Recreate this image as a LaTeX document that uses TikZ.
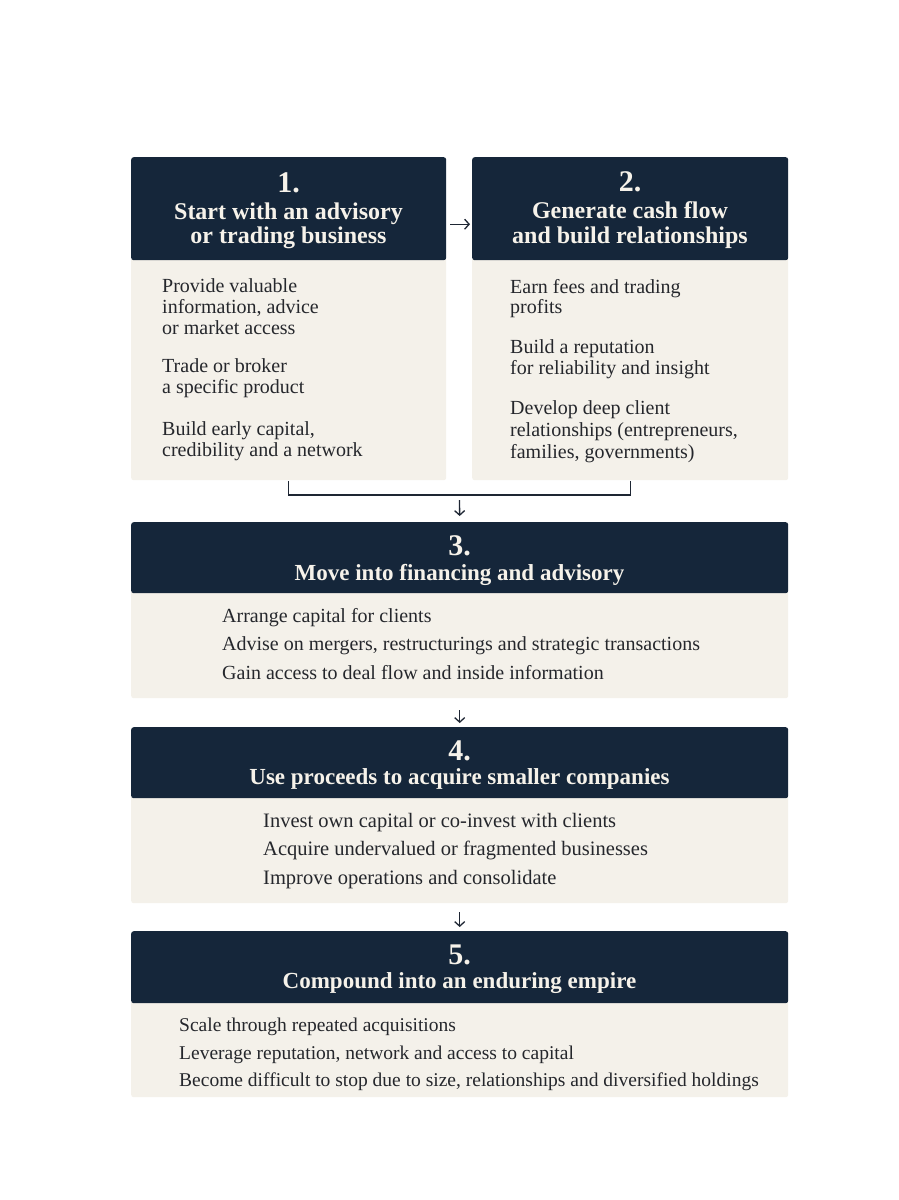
\documentclass[tikz,border=0pt]{standalone}
\usepackage{fontspec}
\setmainfont{Liberation Serif}
\usetikzlibrary{arrows.meta}
\definecolor{navy}{HTML}{15263A}
\definecolor{cream}{HTML}{F4F1EA}
\definecolor{ink}{HTML}{25272C}
\definecolor{hdtext}{HTML}{F6F2EA}
\definecolor{linec}{HTML}{1E2633}
\tikzset{
  hdr/.style={draw=none, fill=navy, rounded corners=2.5pt, anchor=north west, inner sep=0pt},
  bodybox/.style={draw=none, fill=cream, rounded corners=2.5pt, anchor=north west, inner sep=0pt},
  numtxt/.style={text=hdtext, font=\fontsize{30}{32}\selectfont\bfseries, anchor=base, inner sep=0pt},
  ttltxt/.style={text=hdtext, font=\fontsize{24}{26}\selectfont\bfseries, anchor=base, inner sep=0pt},
  ttlsm/.style={text=hdtext, font=\fontsize{23}{25}\selectfont\bfseries, anchor=base, inner sep=0pt},
  bodytxt/.style={text=ink, font=\fontsize{20}{21}\selectfont, anchor=base west, inner sep=0pt},
  bodylg/.style={text=ink, font=\fontsize{20.5}{22}\selectfont, anchor=base west, inner sep=0pt},
  bodysm/.style={text=ink, font=\fontsize{19.5}{21}\selectfont, anchor=base west, inner sep=0pt},
  conn/.style={draw=linec, line width=1.3pt},
  arr/.style={draw=linec, line width=1.3pt, -{Straight Barb[length=4.5pt,width=10pt,line width=1.3pt]}}
}
\begin{document}
\begin{tikzpicture}[x=1pt,y=-1pt]
\useasboundingbox (0,0) rectangle (898,1200);
\fill[white] (0,0) rectangle (898,1200);

% box 1
\node[bodybox, minimum width=315pt, minimum height=223pt] (b1) at (131,257) {};
\node[hdr, minimum width=315pt, minimum height=103pt] (h1) at (131,157) {};
% box 2
\node[bodybox, minimum width=316pt, minimum height=223pt] (b2) at (472,257) {};
\node[hdr, minimum width=316pt, minimum height=103pt] (h2) at (472,157) {};
% box 3
\node[bodybox, minimum width=657pt, minimum height=109pt] (b3) at (131,589) {};
\node[hdr, minimum width=657pt, minimum height=71pt] (h3) at (131,522) {};
% box 4
\node[bodybox, minimum width=657pt, minimum height=108pt] (b4) at (131,795) {};
\node[hdr, minimum width=657pt, minimum height=71pt] (h4) at (131,727) {};
% box 5
\node[bodybox, minimum width=657pt, minimum height=97pt] (b5) at (131,1000) {};
\node[hdr, minimum width=657pt, minimum height=72pt] (h5) at (131,931) {};

% header texts
\node[numtxt] (n1) at (288.5,192) {1.};
\node[ttltxt] (t1a) at (288.5,219) {Start with an advisory};
\node[ttltxt] (t1b) at (288.5,243) {or trading business};
\node[numtxt] (n2) at (630,191) {2.};
\node[ttltxt] (t2a) at (630,218) {Generate cash flow};
\node[ttltxt] (t2b) at (630,243) {and build relationships};
\node[numtxt] (n3) at (459.5,555) {3.};
\node[ttlsm] (t3) at (459.5,580) {Move into financing and advisory};
\node[numtxt] (n4) at (459.5,760) {4.};
\node[ttlsm] (t4) at (459.5,784) {Use proceeds to acquire smaller companies};
\node[numtxt] (n5) at (459.5,964) {5.};
\node[ttlsm] (t5) at (459.5,988.5) {Compound into an enduring empire};

% body texts box 1
\node[bodytxt] (p1a) at (162,292.7) {Provide valuable};
\node[bodytxt] (p1b) at (162,313.5) {information, advice};
\node[bodytxt] (p1c) at (162,334) {or market access};
\node[bodytxt] (p1d) at (162,372.7) {Trade or broker};
\node[bodytxt] (p1e) at (162,393) {a specific product};
\node[bodytxt] (p1f) at (162,435) {Build early capital,};
\node[bodytxt] (p1g) at (162,456) {credibility and a network};
% box 2
\node[bodytxt] (p2a) at (510,293) {Earn fees and trading};
\node[bodytxt] (p2b) at (510,313) {profits};
\node[bodytxt] (p2c) at (510,353) {Build a reputation};
\node[bodytxt] (p2d) at (510,374) {for reliability and insight};
\node[bodytxt] (p2e) at (510,414) {Develop deep client};
\node[bodytxt] (p2f) at (510,436) {relationships (entrepreneurs,};
\node[bodytxt] (p2g) at (510,458) {families, governments)};
% box 3
\node[bodytxt] (p3a) at (222,622) {Arrange capital for clients};
\node[bodytxt] (p3b) at (222,650.5) {Advise on mergers, restructurings and strategic transactions};
\node[bodytxt] (p3c) at (222,679) {Gain access to deal flow and inside information};
% box 4
\node[bodylg] (p4a) at (263,827) {Invest own capital or co-invest with clients};
\node[bodylg] (p4b) at (263,855.5) {Acquire undervalued or fragmented businesses};
\node[bodylg] (p4c) at (263,884) {Improve operations and consolidate};
% box 5
\node[bodysm] (p5a) at (179,1031) {Scale through repeated acquisitions};
\node[bodysm] (p5b) at (179,1059) {Leverage reputation, network and access to capital};
\node[bodysm] (p5c) at (179,1086) {Become difficult to stop due to size, relationships and diversified holdings};

% connectors
\draw[arr, shorten <=4pt, shorten >=2pt] ([yshift=-15.5pt]h1.east) -- ([yshift=-15.5pt]h2.west);
\coordinate (jm) at (459.5,495);
\draw[conn] ([yshift=-1pt]b1.south) |- (jm) -| ([yshift=-1pt]b2.south);
\draw[arr, shorten <=5pt, shorten >=6pt] (jm) -- (h3.north);
\draw[arr, shorten <=12pt, shorten >=4pt] (b3.south) -- (h4.north);
\draw[arr, shorten <=9pt, shorten >=4pt] (b4.south) -- (h5.north);
\end{tikzpicture}
\end{document}
